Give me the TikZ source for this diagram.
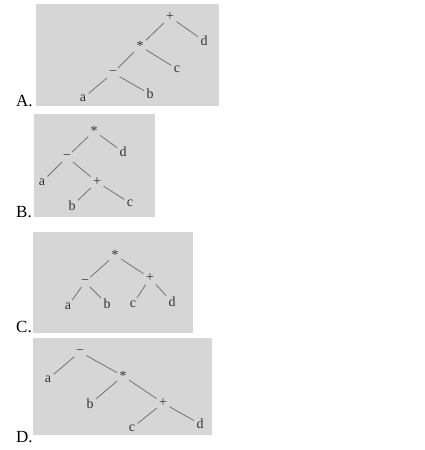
\documentclass[tikz,border=0pt]{standalone}
\usepackage{fontspec}
\setmainfont{Liberation Serif}
\usetikzlibrary{positioning}
\tikzstyle{panel} = [fill=gray!32, draw=none]
\tikzstyle{sym} = [text=black!80, inner sep=1.5pt,
                   font=\fontsize{14}{14}\selectfont]
\tikzstyle{edge} = [draw=black!55, line width=0.8pt,
                    shorten <=1pt, shorten >=1pt]
\tikzstyle{tag} = [anchor=base west, inner sep=0pt,
                   font=\fontsize{17}{17}\selectfont]

\begin{document}
\begin{tikzpicture}[x=1pt, y=-1pt]
  \useasboundingbox (0,0) rectangle (425,450);
  % Panels
  \path [panel] (36,4) rectangle (219,106);
  \path [panel] (34,114) rectangle (155,217);
  \path [panel] (33,232) rectangle (193,333);
  \path [panel] (33,338) rectangle (212,435);

  \node [tag] (tagA) at (16,106) {A.};
  \node [tag] (tagB) at (16,217) {B.};
  \node [tag] (tagC) at (16,332) {C.};
  \node [tag] (tagD) at (16,442) {D.};

  % Tree A
  \node [sym] (a0) at (170,17) {+};
  \node [sym] (a1) at (140,46) {*};
  \node [sym] (ad) at (204,41) {d};
  \node [sym] (a2) at (113,73) {−};
  \node [sym] (ac) at (177,69) {c};
  \node [sym] (aa) at (83,98) {a};
  \node [sym] (ab) at (150,94) {b};
  \path [edge] (a0) -- (a1);
  \path [edge] (a0) -- (ad);
  \path [edge] (a1) -- (a2);
  \path [edge] (a1) -- (ac);
  \path [edge] (a2) -- (aa);
  \path [edge] (a2) -- (ab);

  % Tree B
  \node [sym] (b0) at (94,131) {*};
  \node [sym] (b1) at (67,157) {−};
  \node [sym] (bd) at (123,152) {d};
  \node [sym] (ba) at (42,182) {a};
  \node [sym] (b2) at (97,182) {+};
  \node [sym] (bb) at (72,206) {b};
  \node [sym] (bc) at (130,203) {c};
  \path [edge] (b0) -- (b1);
  \path [edge] (b0) -- (bd);
  \path [edge] (b1) -- (ba);
  \path [edge] (b1) -- (b2);
  \path [edge] (b2) -- (bb);
  \path [edge] (b2) -- (bc);

  % Tree C
  \node [sym] (c0) at (115,255) {*};
  \node [sym] (c1) at (85,282) {−};
  \node [sym] (c2) at (150,278) {+};
  \node [sym] (ca) at (68,306) {a};
  \node [sym] (cb) at (107,304) {b};
  \node [sym] (cc) at (133,304) {c};
  \node [sym] (cd) at (172,302) {d};
  \path [edge] (c0) -- (c1);
  \path [edge] (c0) -- (c2);
  \path [edge] (c1) -- (ca);
  \path [edge] (c1) -- (cb);
  \path [edge] (c2) -- (cc);
  \path [edge] (c2) -- (cd);

  % Tree D
  \node [sym] (d0) at (80,352) {−};
  \node [sym] (da) at (48,379) {a};
  \node [sym] (d1) at (123,376) {*};
  \node [sym] (db) at (90,404) {b};
  \node [sym] (d2) at (163,403) {+};
  \node [sym] (dc) at (132,428) {c};
  \node [sym] (dd) at (200,424) {d};
  \path [edge] (d0) -- (da);
  \path [edge] (d0) -- (d1);
  \path [edge] (d1) -- (db);
  \path [edge] (d1) -- (d2);
  \path [edge] (d2) -- (dc);
  \path [edge] (d2) -- (dd);
\end{tikzpicture}
\end{document}
